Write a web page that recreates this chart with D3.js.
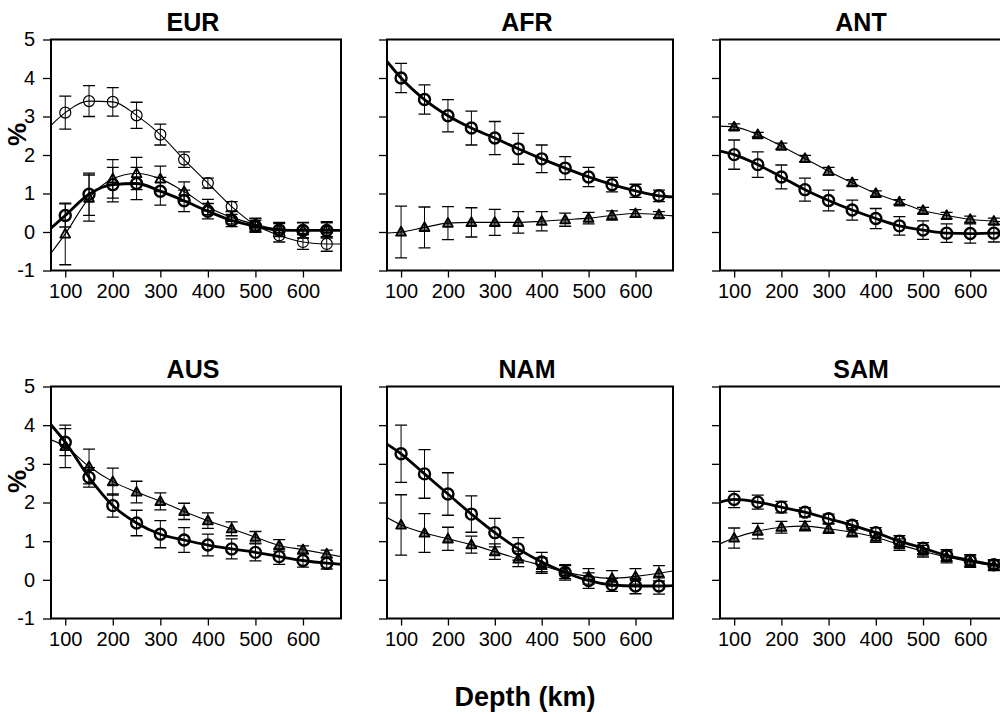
<!DOCTYPE html>
<html><head><meta charset="utf-8">
<script src="https://cdn.jsdelivr.net/npm/d3@7"></script>
<style>
body{margin:0;background:#fff}
svg{display:block}
text{font-family:"Liberation Sans",Arial,Helvetica,sans-serif;fill:#000}
</style>
</head><body>
<svg id="chart" width="1000" height="714"></svg>
<script>
// ---------------- data ----------------
const depths = [100,150,200,250,300,350,400,450,500,550,600,650];
const depthDomain = [70, 680];
const panelNames = ["EUR","AFR","ANT","AUS","NAM","SAM"];
const xTickValues = [100,200,300,400,500,600];
const yTickValues = [-1,0,1,2,3,4,5];
const yLabel = "%";
const xLabel = "Depth (km)";

// EUR
const eurOpenCirc     = [3.10,3.40,3.38,3.03,2.53,1.88,1.27,0.66,0.18,-0.09,-0.26,-0.31];
const eurOpenCircErr  = [0.43,0.40,0.37,0.34,0.27,0.20,0.13,0.13,0.18,0.17,0.19,0.19];
const eurOpenCircEnds = [2.77,-0.31];
const eurBoldCirc     = [0.43,0.98,1.23,1.26,1.06,0.81,0.54,0.30,0.15,0.05,0.04,0.04];
const eurBoldCircErr  = [0.30,0.55,0.45,0.42,0.36,0.28,0.20,0.16,0.15,0.17,0.20,0.20];
const eurBoldCircEnds = [0.10,0.04];
const eurTri          = [-0.05,0.88,1.38,1.52,1.38,1.05,0.65,0.38,0.20,0.07,0.05,0.07];
const eurTriErr       = [0.80,0.60,0.50,0.42,0.33,0.25,0.20,0.17,0.15,0.18,0.20,0.20];
const eurTriEnds      = [-0.55,0.06];
// AFR
const afrBoldCirc     = [4.00,3.44,3.02,2.70,2.44,2.16,1.90,1.66,1.43,1.23,1.07,0.94];
const afrBoldCircErr  = [0.38,0.38,0.42,0.44,0.43,0.40,0.36,0.30,0.25,0.19,0.17,0.15];
const afrBoldCircEnds = [4.43,0.91];
const afrTri          = [0.00,0.12,0.23,0.25,0.25,0.25,0.28,0.32,0.36,0.43,0.48,0.45];
const afrTriErr       = [0.67,0.53,0.43,0.38,0.34,0.28,0.25,0.17,0.15,0.12,0.10,0.08];
const afrTriEnds      = [-0.03,0.42];
// ANT
const antBoldCirc     = [2.01,1.75,1.43,1.10,0.82,0.57,0.35,0.16,0.05,-0.03,-0.04,-0.03];
const antBoldCircErr  = [0.38,0.33,0.31,0.30,0.27,0.26,0.26,0.24,0.24,0.24,0.25,0.23];
const antBoldCircEnds = [2.10,-0.03];
const antTri          = [2.73,2.53,2.23,1.91,1.58,1.28,1.00,0.78,0.56,0.43,0.33,0.28];
const antTriErr       = [0.08,0.06,0.08,0.08,0.10,0.08,0.07,0.06,0.08,0.08,0.08,0.08];
const antTriEnds      = [2.75,0.26];
// AUS
const ausBoldCirc     = [3.56,2.65,1.92,1.47,1.18,1.03,0.90,0.80,0.71,0.60,0.50,0.43];
const ausBoldCircErr  = [0.35,0.25,0.30,0.33,0.35,0.32,0.28,0.26,0.22,0.20,0.17,0.15];
const ausBoldCircEnds = [4.01,0.40];
const ausTri          = [3.45,2.93,2.54,2.27,2.03,1.77,1.53,1.32,1.10,0.89,0.78,0.67];
const ausTriErr       = [0.55,0.45,0.35,0.28,0.22,0.21,0.20,0.18,0.15,0.15,0.10,0.10];
const ausTriEnds      = [3.62,0.60];
// NAM
const namBoldCirc     = [3.26,2.74,2.22,1.70,1.22,0.80,0.46,0.19,-0.02,-0.13,-0.16,-0.16];
const namBoldCircErr  = [0.74,0.63,0.55,0.47,0.37,0.29,0.25,0.20,0.20,0.17,0.20,0.21];
const namBoldCircEnds = [3.51,-0.15];
const namTri          = [1.42,1.21,1.06,0.91,0.73,0.54,0.37,0.20,0.09,0.04,0.09,0.17];
const namTriErr       = [0.78,0.50,0.30,0.22,0.20,0.20,0.20,0.17,0.20,0.20,0.20,0.20];
const namTriEnds      = [1.61,0.23];
// SAM
const samBoldCirc     = [2.08,2.01,1.88,1.75,1.58,1.41,1.22,1.00,0.82,0.63,0.50,0.39];
const samBoldCircErr  = [0.21,0.18,0.15,0.12,0.12,0.12,0.13,0.14,0.14,0.15,0.15,0.13];
const samBoldCircEnds = [2.01,0.37];
const samTri          = [1.08,1.26,1.36,1.39,1.32,1.23,1.10,0.91,0.74,0.59,0.47,0.37];
const samTriErr       = [0.26,0.20,0.15,0.12,0.12,0.12,0.13,0.15,0.15,0.15,0.15,0.13];
const samTriEnds      = [0.93,0.35];

// series per panel (marker type, bold line)
const panelSeries = {
  EUR: [
    {v: eurTri, e: eurTriErr, ends: eurTriEnds, m: "tri", bold: false},
    {v: eurOpenCirc, e: eurOpenCircErr, ends: eurOpenCircEnds, m: "circ", bold: false},
    {v: eurBoldCirc, e: eurBoldCircErr, ends: eurBoldCircEnds, m: "circ", bold: true}
  ],
  AFR: [
    {v: afrTri, e: afrTriErr, ends: afrTriEnds, m: "tri", bold: false},
    {v: afrBoldCirc, e: afrBoldCircErr, ends: afrBoldCircEnds, m: "circ", bold: true}
  ],
  ANT: [
    {v: antTri, e: antTriErr, ends: antTriEnds, m: "tri", bold: false},
    {v: antBoldCirc, e: antBoldCircErr, ends: antBoldCircEnds, m: "circ", bold: true}
  ],
  AUS: [
    {v: ausTri, e: ausTriErr, ends: ausTriEnds, m: "tri", bold: false},
    {v: ausBoldCirc, e: ausBoldCircErr, ends: ausBoldCircEnds, m: "circ", bold: true}
  ],
  NAM: [
    {v: namTri, e: namTriErr, ends: namTriEnds, m: "tri", bold: false},
    {v: namBoldCirc, e: namBoldCircErr, ends: namBoldCircEnds, m: "circ", bold: true}
  ],
  SAM: [
    {v: samTri, e: samTriErr, ends: samTriEnds, m: "tri", bold: false},
    {v: samBoldCirc, e: samBoldCircErr, ends: samBoldCircEnds, m: "circ", bold: true}
  ]
};

// ---------------- layout ----------------
const colLeft = [51, 387, 720];
const colWidth = [290, 286, 288];
const rowTop = [39.5, 386.5];
const rowHeight = [231, 232];

const svg = d3.select("#chart");

panelNames.forEach((name, i) => {
  const col = i % 3, row = Math.floor(i / 3);
  const L = colLeft[col], T = rowTop[row], W = colWidth[col], H = rowHeight[row];
  const x = d3.scaleLinear().domain(depthDomain).range([0, W]);
  const y = d3.scaleLinear().domain([-1, 5]).range([H, 0]);

  const g = svg.append("g").attr("transform", `translate(${L},${T})`);

  const clipId = "clip" + i;
  g.append("clipPath").attr("id", clipId).append("rect").attr("width", W).attr("height", H);

  // axes
  const xAxis = d3.axisBottom(x).tickValues(xTickValues).tickSize(7).tickPadding(6).tickSizeOuter(0);
  const gx = g.append("g").attr("transform", `translate(0,${H})`).call(xAxis);
  gx.select(".domain").remove();
  gx.selectAll("line").attr("stroke", "#000").attr("stroke-width", 1.3);
  gx.selectAll("text").attr("font-size", 20).attr("dy", "0.71em")
    .attr("font-family", '"Liberation Sans",Arial,sans-serif');

  const yAxis = d3.axisLeft(y).tickValues(yTickValues).tickSize(8).tickPadding(8).tickSizeOuter(0)
    .tickFormat(col === 0 ? d3.format("d") : () => "");
  const gy = g.append("g").call(yAxis);
  gy.select(".domain").remove();
  gy.selectAll("line").attr("stroke", "#000").attr("stroke-width", 1.3);
  gy.selectAll("text").attr("font-size", 20)
    .attr("font-family", '"Liberation Sans",Arial,sans-serif')
    .text(d => col === 0 ? String(d).replace("\u2212", "-") : "");

  // frame
  g.append("rect").attr("width", W).attr("height", H)
    .attr("fill", "none").attr("stroke", "#000").attr("stroke-width", 2);

  // title
  g.append("text").attr("x", W / 2 - 3).attr("y", -9)
    .attr("text-anchor", "middle").attr("font-size", 25).attr("font-weight", "bold").text(name);

  const plot = g.append("g").attr("clip-path", `url(#${clipId})`);

  const line = d3.line().x(d => x(d[0])).y(d => y(d[1])).curve(d3.curveMonotoneX);

  panelSeries[name].forEach(s => {
    const pts = [[depthDomain[0], s.ends[0]]]
      .concat(depths.map((d, k) => [d, s.v[k]]))
      .concat([[depthDomain[1], s.ends[1]]]);
    plot.append("path").attr("d", line(pts)).attr("fill", "none")
      .attr("stroke", "#000").attr("stroke-width", s.bold ? 2.8 : 1.1);
  });

  panelSeries[name].forEach(s => {
    depths.forEach((d, k) => {
      const cx = x(d), v = s.v[k], e = s.e[k];
      const y1 = y(v + e), y2 = y(v - e);
      plot.append("line").attr("x1", cx).attr("x2", cx).attr("y1", y1).attr("y2", y2)
        .attr("stroke", "#000").attr("stroke-width", 1);
      [y1, y2].forEach(yy => plot.append("line").attr("x1", cx - 6).attr("x2", cx + 6)
        .attr("y1", yy).attr("y2", yy).attr("stroke", "#000").attr("stroke-width", 1.3));
    });
  });

  panelSeries[name].forEach(s => {
    depths.forEach((d, k) => {
      const cx = x(d), cy = y(s.v[k]);
      if (s.m === "circ") {
        plot.append("circle").attr("cx", cx).attr("cy", cy).attr("r", 5.5)
          .attr("fill", "none").attr("stroke", "#000").attr("stroke-width", s.bold ? 2.4 : 1.2);
      } else {
        const r = 5.2;
        const p = `M${cx},${cy - r}L${cx + r * 0.95},${cy + r * 0.7}L${cx - r * 0.95},${cy + r * 0.7}Z`;
        plot.append("path").attr("d", p).attr("fill", name === "EUR" ? "none" : "#000")
          .attr("fill-opacity", 0.55)
          .attr("stroke", "#000").attr("stroke-width", 1.8).attr("stroke-linejoin", "round");
      }
    });
  });

  // y label
  if (col === 0) {
    svg.append("text").attr("transform", `translate(26,${T + 95}) rotate(-90)`)
      .attr("text-anchor", "middle").attr("font-size", 26).attr("font-weight", "bold").text(yLabel);
  }
});

svg.append("text").attr("x", 525).attr("y", 706).attr("text-anchor", "middle")
  .attr("font-size", 27).attr("font-weight", "bold").text(xLabel);
</script>
</body></html>
